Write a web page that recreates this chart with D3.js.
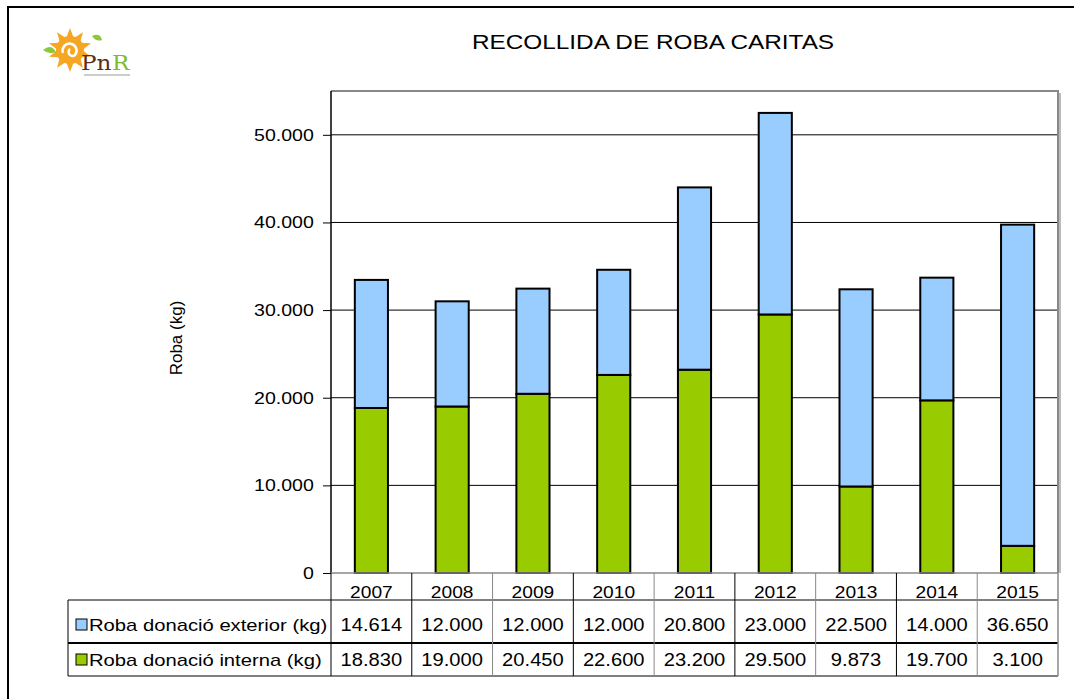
<!DOCTYPE html>
<html>
<head>
<meta charset="utf-8">
<script src="https://cdn.jsdelivr.net/npm/d3@7"></script>
<style>
  body { margin: 0; background: #fff; }
  svg { display: block; font-family: "Liberation Sans", Arial, sans-serif; }
</style>
</head>
<body>
<svg id="chart" width="1074" height="699"></svg>
<script>
var years = ["2007", "2008", "2009", "2010", "2011", "2012", "2013", "2014", "2015"];
var exterior = [14614, 12000, 12000, 12000, 20800, 23000, 22500, 14000, 36650];
var interna = [18830, 19000, 20450, 22600, 23200, 29500, 9873, 19700, 3100];
var yTicks = [0, 10000, 20000, 30000, 40000, 50000];
var seriesNames = ["Roba donació exterior (kg)", "Roba donació interna (kg)"];
var colors = ["#99CCFF", "#99CC00"];

var ca = d3.formatLocale({ decimal: ",", thousands: ".", grouping: [3], currency: ["", " €"] });
var fmt = ca.format(",d");

var svg = d3.select("#chart");
var plotL = 331, plotR = 1058, plotT = 91, plotB = 573;

// text drawn slightly wider, like the original export
function wideText(g, px, py, k) {
    return g.append("text").attr("transform", "translate(" + px + "," + py + ") scale(" + k + ",1)");
}

// outer frame (only top and left visible)
svg.append("path")
    .attr("d", "M8,699 V7 H1074")
    .attr("fill", "none")
    .attr("stroke", "#000")
    .attr("stroke-width", 2);

// logo
var logo = svg.append("g").attr("transform", "translate(70,50)");
d3.range(10).forEach(function (i) {
    var a = i / 10 * 2 * Math.PI - Math.PI / 2;
    logo.append("path")
        .attr("d", "M" + (Math.cos(a - 0.28) * 13) + "," + (Math.sin(a - 0.28) * 13) +
            "L" + (Math.cos(a) * 22) + "," + (Math.sin(a) * 22) +
            "L" + (Math.cos(a + 0.28) * 13) + "," + (Math.sin(a + 0.28) * 13) + "Z")
        .attr("fill", "#F5A623");
});
logo.append("circle").attr("r", 14).attr("fill", "#F5A623");
logo.append("path")
    .attr("d", "M-7,3 A7,7 0 1 1 5,5 A3.5,3.5 0 1 1 0,-1")
    .attr("fill", "none").attr("stroke", "#fff").attr("stroke-width", 2.5);
logo.append("path").attr("d", "M-27,0 q8,-7 13,2 q-7,3 -13,-2z").attr("fill", "#8DC63F");
logo.append("path").attr("d", "M22,-14 q8,-4 10,4 q-6,2 -10,-4z").attr("fill", "#8DC63F");
wideText(logo, 11, 20, 1.1).attr("font-size", 21)
    .attr("font-family", "DejaVu Serif, serif").attr("fill", "#5A2E14").text("Pn");
wideText(logo, 42, 20, 1.1).attr("font-size", 21)
    .attr("font-family", "DejaVu Serif, serif").attr("fill", "#7DBB2F").text("R");
logo.append("rect").attr("x", 14).attr("y", 24).attr("width", 46).attr("height", 2).attr("fill", "#ccc");

// title
wideText(svg, 653, 49, 1.16)
    .attr("text-anchor", "middle")
    .attr("font-size", 21)
    .text("RECOLLIDA DE ROBA CARITAS");

var x = d3.scaleBand().domain(years).range([plotL, plotR]).padding(0);
var y = d3.scaleLinear().domain([0, 55000]).range([plotB, plotT]);

// gridlines
svg.append("g").selectAll("line")
    .data(yTicks.filter(function (d) { return d > 0; }))
    .join("line")
    .attr("x1", plotL).attr("x2", plotR)
    .attr("y1", function (d) { return y(d); }).attr("y2", function (d) { return y(d); })
    .attr("stroke", "#000");

// plot frame top/right
svg.append("path")
    .attr("d", "M" + plotL + "," + plotT + "H" + plotR + "V" + plotB)
    .attr("fill", "none").attr("stroke", "#888").attr("stroke-width", 2);
svg.append("line")
    .attr("x1", plotR + 2).attr("x2", plotR + 2).attr("y1", plotT + 2).attr("y2", plotB)
    .attr("stroke", "#bbb").attr("stroke-width", 2);

// stacked bars
var stackData = years.map(function (yr, i) { return { year: yr, interna: interna[i], exterior: exterior[i] }; });
var stack = d3.stack().keys(["interna", "exterior"])(stackData);
var barW = x.bandwidth() * 0.41;
svg.append("g").selectAll("g")
    .data(stack)
    .join("g")
    .attr("fill", function (d) { return d.key === "interna" ? colors[1] : colors[0]; })
    .selectAll("rect")
    .data(function (d) { return d; })
    .join("rect")
    .attr("x", function (d) { return x(d.data.year) + (x.bandwidth() - barW) / 2; })
    .attr("width", barW)
    .attr("y", function (d) { return y(d[1]); })
    .attr("height", function (d) { return y(d[0]) - y(d[1]); })
    .attr("stroke", "#000")
    .attr("stroke-width", 2);

// y axis
var yAxis = d3.axisLeft(y).tickValues(yTicks).tickSize(8).tickPadding(8).tickFormat(fmt);
var ya = svg.append("g").attr("transform", "translate(" + plotL + ",0)").call(yAxis);
ya.select(".domain").attr("stroke", "#000").attr("stroke-width", 1.5).attr("d", "M0," + plotT + "V" + plotB);
ya.selectAll(".tick text")
    .attr("font-size", 17)
    .attr("font-family", "Liberation Sans, Arial, sans-serif")
    .attr("fill", "#000")
    .attr("x", -15)
    .attr("transform", "scale(1.15,1)");
ya.selectAll(".tick line").attr("stroke", "#000");

// y label
svg.append("text")
    .attr("transform", "translate(182,338) rotate(-90)")
    .attr("text-anchor", "middle")
    .attr("font-size", 17)
    .text("Roba (kg)");

// data table
var labelLeft = 68;
var table = svg.append("g");
table.append("line").attr("x1", plotL).attr("x2", plotR).attr("y1", plotB).attr("y2", plotB)
    .attr("stroke", "#888").attr("stroke-width", 1.5);
// category row
years.forEach(function (d) {
    wideText(table, x(d) + x.bandwidth() / 2, 592, 1.13)
        .attr("dy", "0.35em")
        .attr("text-anchor", "middle")
        .attr("font-size", 17)
        .text(d);
});
// horizontal lines
table.append("line").attr("x1", labelLeft).attr("x2", plotR).attr("y1", 600).attr("y2", 600).attr("stroke", "#000");
table.append("line").attr("x1", labelLeft).attr("x2", plotR).attr("y1", 643).attr("y2", 643).attr("stroke", "#000").attr("stroke-width", 2);
table.append("line").attr("x1", labelLeft).attr("x2", plotR).attr("y1", 676).attr("y2", 676).attr("stroke", "#000");
// vertical lines
table.selectAll(".vl").data(years.slice(1)).join("line")
    .attr("x1", function (d) { return x(d); }).attr("x2", function (d) { return x(d); })
    .attr("y1", plotB).attr("y2", 676)
    .attr("stroke", function (d, i) { return i % 2 ? "#888" : "#000"; });
table.append("line").attr("x1", plotL).attr("x2", plotL).attr("y1", plotB).attr("y2", 676).attr("stroke", "#000");
table.append("line").attr("x1", plotR).attr("x2", plotR).attr("y1", plotB).attr("y2", 676).attr("stroke", "#888").attr("stroke-width", 1.5);
table.append("line").attr("x1", labelLeft).attr("x2", labelLeft).attr("y1", 600).attr("y2", 676).attr("stroke", "#000");

var rows = [exterior, interna];
var rowMid = [625, 660];
rows.forEach(function (vals, r) {
    table.append("rect")
        .attr("x", 76).attr("y", rowMid[r] - 6).attr("width", 11).attr("height", 11)
        .attr("fill", colors[r]).attr("stroke", "#000");
    wideText(table, 89, rowMid[r], 1.19)
        .attr("dy", "0.35em")
        .attr("font-size", 17)
        .text(seriesNames[r]);
    vals.forEach(function (v, i) {
        wideText(table, x(years[i]) + x.bandwidth() / 2, rowMid[r], 1.12)
            .attr("dy", "0.35em")
            .attr("text-anchor", "middle")
            .attr("font-size", 18)
            .text(fmt(v));
    });
});
</script>
</body>
</html>
